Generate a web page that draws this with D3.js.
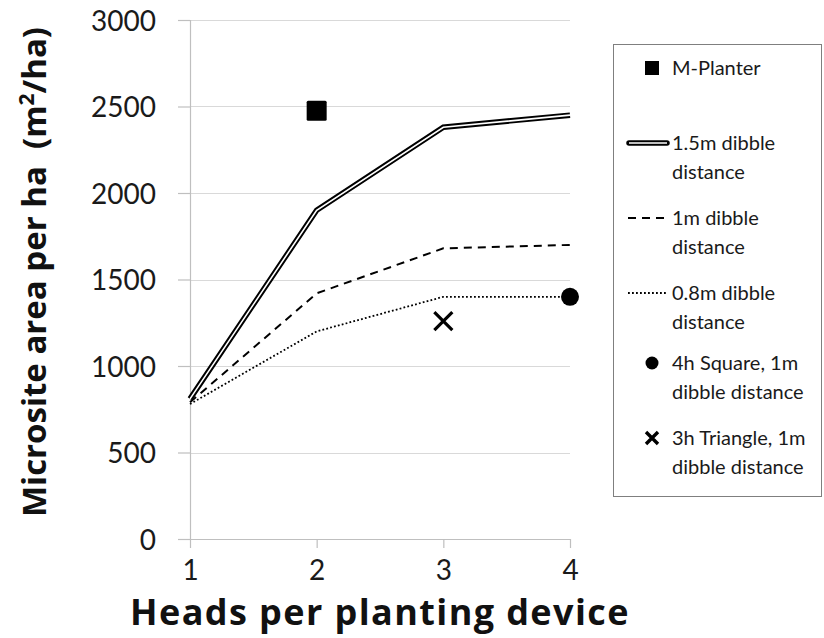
<!DOCTYPE html>
<html><head><meta charset="utf-8">
<script src="https://cdn.jsdelivr.net/npm/d3@7"></script>
<style>body{margin:0;background:#fff}svg{display:block}text{white-space:pre}</style>
</head><body>
<svg id="c" width="824" height="638"></svg>
<script>
const heads = [1, 2, 3, 4];
const yTicks = [0, 500, 1000, 1500, 2000, 2500, 3000];
const line15 = [810, 1900, 2380, 2450];
const line10 = [790, 1420, 1680, 1700];
const line08 = [780, 1200, 1400, 1400];
const mPlanter = [{x: 2, y: 2475}];
const square4h = [{x: 4, y: 1400}];
const triangle3h = [{x: 3, y: 1260}];
const legendLabels = [["M-Planter"], ["1.5m dibble", "distance"], ["1m dibble", "distance"], ["0.8m dibble", "distance"], ["4h Square, 1m", "dibble distance"], ["3h Triangle, 1m", "dibble distance"]];

const svg = d3.select("#c");
const font = "Lato, 'Open Sans', sans-serif";
const tfont = "'Open Sans', sans-serif";
const x = d3.scaleLinear().domain([1, 4]).range([190, 570]);
const y = d3.scaleLinear().domain([0, 3000]).range([539, 20]);

// gridlines
svg.append("g").selectAll("line").data(yTicks.slice(1)).join("line")
  .attr("x1", x(1)).attr("x2", x(4)).attr("y1", d => Math.round(y(d)) + 0.5).attr("y2", d => Math.round(y(d)) + 0.5)
  .attr("stroke", "#d9d9d9").attr("stroke-width", 1.2);

// y axis
const ya = svg.append("g").attr("transform", `translate(${x(1)},0)`)
  .call(d3.axisLeft(y).tickValues(yTicks).tickFormat(d3.format("d")).tickSize(12).tickPadding(22));
ya.select(".domain").attr("stroke", "#bfbfbf").attr("stroke-width", 1.2).attr("d", `M0.5,${y(3000)}V${y(0)}`);
ya.selectAll(".tick line").attr("stroke", "#bfbfbf").attr("stroke-width", 1.2);
ya.selectAll("text").attr("font-family", font).attr("font-size", 28).attr("fill", "#1a1a1a").attr("dy", "0.36em");

// x axis
const xa = svg.append("g").attr("transform", `translate(0,${y(0)})`)
  .call(d3.axisBottom(x).tickValues(heads).tickFormat(d3.format("d")).tickSize(9).tickPadding(12));
xa.select(".domain").attr("stroke", "#bfbfbf").attr("stroke-width", 1.2).attr("d", `M${x(1)-12},0.5H${x(4)}`);
xa.selectAll(".tick line").attr("stroke", "#bfbfbf").attr("stroke-width", 1.2);
xa.selectAll("text").attr("font-family", font).attr("font-size", 28).attr("fill", "#1a1a1a");

// titles
svg.append("text").attr("x", 380).attr("y", 625).attr("text-anchor", "middle")
  .attr("font-family", tfont).attr("font-weight", 700).attr("font-size", 36).attr("fill", "#111")
  .attr("letter-spacing", 1.4).text("Heads per planting device");
const yt = svg.append("text").attr("transform", "translate(46,272) rotate(-90)").attr("text-anchor", "middle")
  .attr("font-family", tfont).attr("font-weight", 700).attr("font-size", 33).attr("fill", "#111");
yt.append("tspan").text("Microsite area per ha  (m");
yt.append("tspan").attr("font-size", 21).attr("dy", -12).text("2");
yt.append("tspan").attr("dy", 12).text("/ha)");

const lg = d3.line().x((d, i) => x(heads[i])).y(d => y(d));
// 1.5m double line
svg.append("path").datum(line15).attr("d", lg).attr("fill", "none").attr("stroke", "#000").attr("stroke-width", 5.5);
svg.append("path").datum(line15).attr("d", lg).attr("fill", "none").attr("stroke", "#fff").attr("stroke-width", 1.6);
svg.append("path").datum(line10).attr("d", lg).attr("fill", "none").attr("stroke", "#000").attr("stroke-width", 2).attr("stroke-dasharray", "8,6");
svg.append("path").datum(line08).attr("d", lg).attr("fill", "none").attr("stroke", "#000").attr("stroke-width", 1.8).attr("stroke-dasharray", "1.8,2.2");

// markers
svg.selectAll(".sq").data(mPlanter).join("rect").attr("class", "sq")
  .attr("x", d => x(d.x) - 10).attr("y", d => y(d.y) - 10).attr("width", 20).attr("height", 20).attr("rx", 1.5).attr("fill", "#000");
svg.selectAll(".ci").data(square4h).join("circle").attr("class", "ci")
  .attr("cx", d => x(d.x)).attr("cy", d => y(d.y)).attr("r", 9).attr("fill", "#000");
svg.selectAll(".cr").data(triangle3h).join("path").attr("class", "cr")
  .attr("d", d => `M${x(d.x)-9},${y(d.y)-9}L${x(d.x)+9},${y(d.y)+9}M${x(d.x)+9},${y(d.y)-9}L${x(d.x)-9},${y(d.y)+9}`)
  .attr("stroke", "#000").attr("stroke-width", 3.2);

// legend
svg.append("rect").attr("x", 613.5).attr("y", 44.5).attr("width", 208).attr("height", 452)
  .attr("fill", "#fff").attr("stroke", "#7f7f7f").attr("stroke-width", 1);
const rowY = [68, 143, 218, 293, 363, 438];
const tx = 672, lh = 29;
legendLabels.forEach((lines, i) => {
  const t = svg.append("text").attr("font-family", font).attr("font-size", 20).attr("fill", "#1a1a1a");
  lines.forEach((s, j) => t.append("tspan").attr("x", tx).attr("y", rowY[i] + j * lh).attr("dy", "0.36em").text(s));
});
svg.append("rect").attr("x", 645).attr("y", rowY[0] - 7).attr("width", 14).attr("height", 14).attr("fill", "#000");
svg.append("line").attr("x1", 629).attr("x2", 667).attr("y1", rowY[1]).attr("y2", rowY[1]).attr("stroke", "#000").attr("stroke-width", 5.5).attr("stroke-linecap", "round");
svg.append("line").attr("x1", 629).attr("x2", 667).attr("y1", rowY[1]).attr("y2", rowY[1]).attr("stroke", "#fff").attr("stroke-width", 1.6);
svg.append("line").attr("x1", 628).attr("x2", 664).attr("y1", rowY[2]).attr("y2", rowY[2]).attr("stroke", "#000").attr("stroke-width", 2).attr("stroke-dasharray", "8,6");
svg.append("line").attr("x1", 628).attr("x2", 667).attr("y1", rowY[3]).attr("y2", rowY[3]).attr("stroke", "#000").attr("stroke-width", 1.8).attr("stroke-dasharray", "1.8,2.2");
svg.append("circle").attr("cx", 652).attr("cy", rowY[4]).attr("r", 6.5).attr("fill", "#000");
svg.append("path").attr("d", `M${646},${rowY[5]-6}L${658},${rowY[5]+6}M${658},${rowY[5]-6}L${646},${rowY[5]+6}`).attr("stroke", "#000").attr("stroke-width", 3.4);
</script>
</body></html>
